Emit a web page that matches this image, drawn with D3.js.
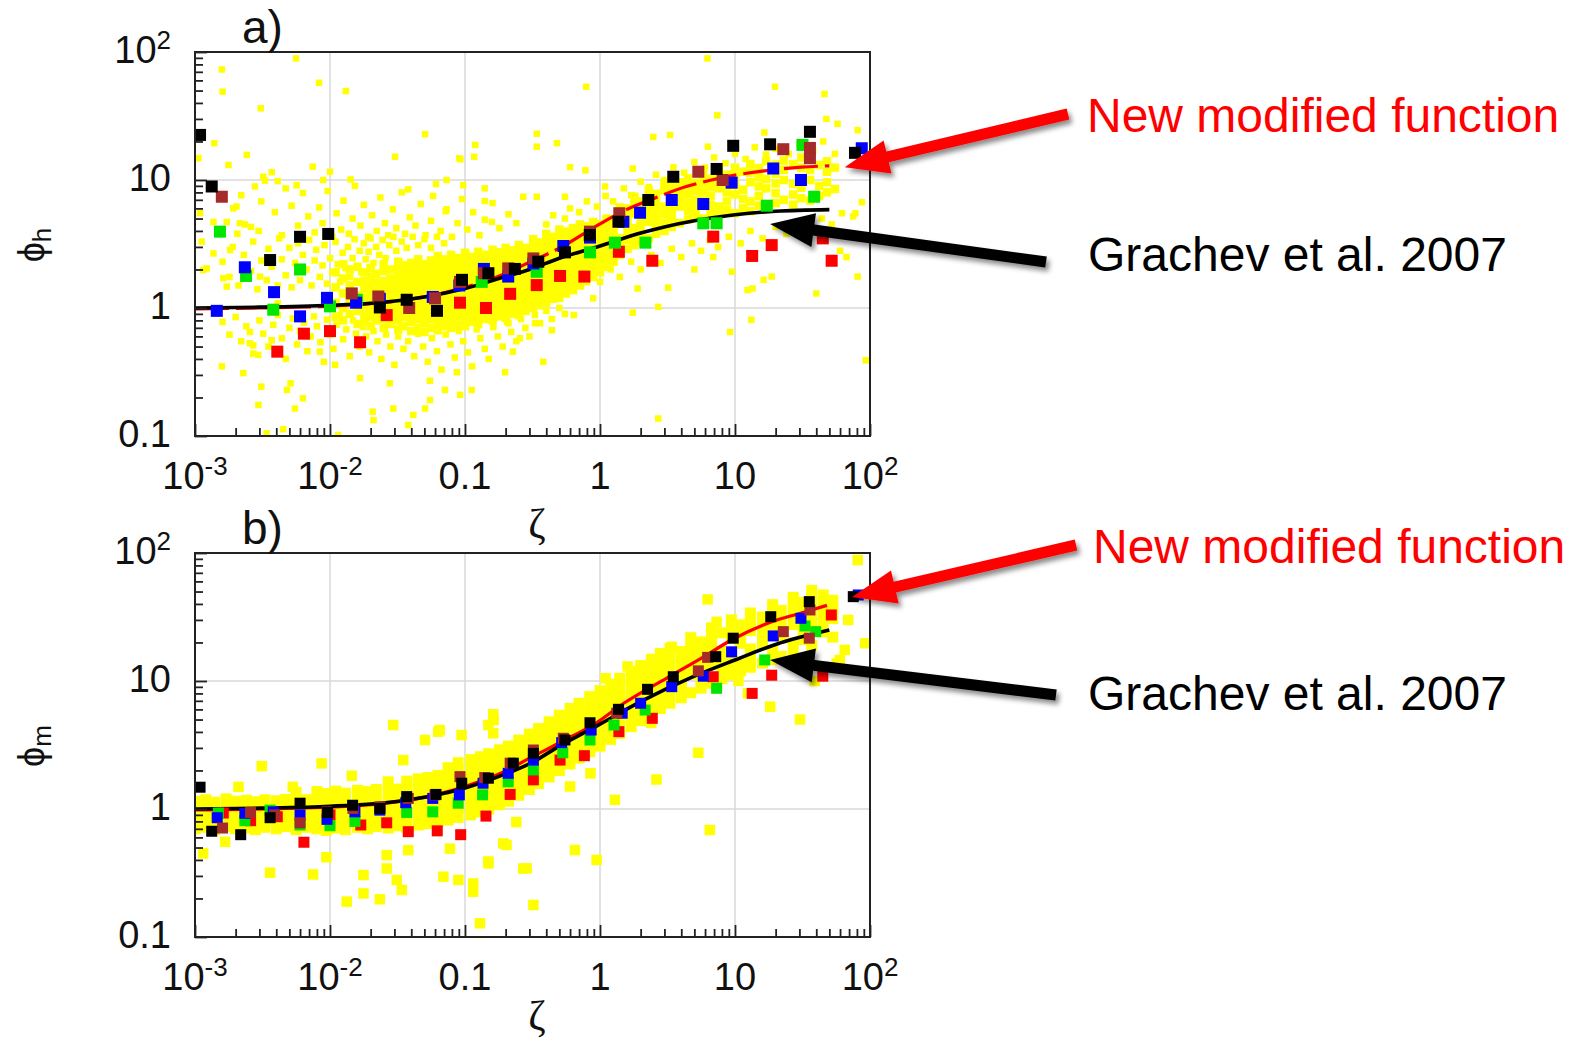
<!DOCTYPE html>
<html>
<head>
<meta charset="utf-8">
<script src="https://cdn.jsdelivr.net/npm/d3@7"></script>
<style>
  html, body { margin: 0; padding: 0; background: #fff; }
  svg { display: block; font-family: "Liberation Sans", Arial, Helvetica, sans-serif; }
</style>
</head>
<body>
<script>
// ---------------------------------------------------------------
// Stability functions phi_h (panel a) and phi_m (panel b) vs zeta
// ---------------------------------------------------------------

// Tick labels
const xTickLabels = [
  { v: 1e-3, text: "10", sup: "-3" },
  { v: 1e-2, text: "10", sup: "-2" },
  { v: 0.1, text: "0.1" },
  { v: 1, text: "1" },
  { v: 10, text: "10" },
  { v: 100, text: "10", sup: "2" }
];
const yTickLabels = [
  { v: 0.1, text: "0.1" },
  { v: 1, text: "1" },
  { v: 10, text: "10" },
  { v: 100, text: "10", sup: "2" }
];
const gridZeta = [0.01, 0.1, 1, 10];
const gridPhi = [1, 10];

// ---- Panel a: phi_h ----
// bin-averaged values for the five groups, [zeta, phi]
const hBlack = [[0.00109,22.5],[0.00133,8.9],[0.0036,2.37],[0.006,3.6],[0.0097,3.79],[0.0234,1.01],[0.037,1.16],[0.062,0.95],[0.095,1.66],[0.149,1.87],[0.234,2.02],[0.349,2.3],[0.55,2.72],[0.84,3.72],[1.37,4.72],[2.28,6.98],[3.49,10.6],[7.31,12.2],[9.7,18.5],[18.2,19.0],[35.9,23.8],[77.4,16.3]];
const hBlue = [[0.00145,0.95],[0.00234,2.08],[0.00385,1.33],[0.006,0.86],[0.0095,1.2],[0.0156,1.1],[0.0234,1.18],[0.0577,1.22],[0.0908,1.5],[0.138,2.02],[0.209,1.76],[0.321,2.23],[0.535,3.05],[0.843,3.55],[1.49,4.72],[1.98,5.55],[3.4,6.98],[5.82,6.49],[9.44,9.53],[19.2,12.3],[30.8,10.0],[86.9,17.7]];
const hGreen = [[0.00153,3.95],[0.00239,1.78],[0.0038,0.97],[0.006,2.0],[0.01,1.03],[0.0158,1.16],[0.133,1.6],[0.34,1.92],[0.843,2.72],[1.29,3.24],[2.17,3.24],[5.82,4.59],[7.31,4.59],[17.2,6.3],[31.6,18.8],[38.6,7.4]];
const hRed = [[0.00407,0.456],[0.00641,0.63],[0.01,0.66],[0.0167,0.54],[0.0263,0.88],[0.0918,1.1],[0.143,1.0],[0.216,1.29],[0.34,1.51],[0.506,1.78],[0.766,1.76],[1.38,2.75],[2.44,2.34],[6.9,3.61],[13.4,2.55],[18.7,3.1],[44.7,3.5],[52,2.34]];
const hBrown = [[0.00158,7.4],[0.0145,1.3],[0.0228,1.23],[0.0386,1.0],[0.06,1.19],[0.0918,1.6],[0.138,1.87],[0.209,2.04],[0.321,2.44],[0.843,3.95],[1.39,5.5],[5.35,11.6],[8.1,10.0],[22.8,17.4],[35.9,17.8],[35.9,14.8]];

// curves
const hGrachev = [[0.001,1.0],[0.003,1.015],[0.01,1.05],[0.02,1.09],[0.05,1.22],[0.1,1.42],[0.2,1.76],[0.3,2.0],[0.5,2.45],[1,3.05],[2,3.85],[3,4.3],[5,4.8],[10,5.35],[20,5.7],[50,5.87]];
const hModified = [[0.001,0.985],[0.003,1.0],[0.01,1.035],[0.02,1.08],[0.05,1.22],[0.1,1.45],[0.2,1.86],[0.28,2.2],[0.52,3.0],[0.95,4.4],[1.53,5.8],[2.7,7.4],[4.3,8.85],[6.7,10.0],[11,11.1],[19,12.0],[31,12.6],[50,12.9]];

// individual observations: dense part as columns [zeta, [phi...]]
const hCloudCore = [
  [0.011,[0.85,1.1,1.45,1.9]],
  [0.0125,[0.8,1.0,1.3,1.7,2.2]],
  [0.014,[0.9,1.15,1.5,2.0]],
  [0.016,[0.75,0.95,1.25,1.6,2.1]],
  [0.018,[0.78,0.9,1.05,1.2,1.4,1.62,1.9]],
  [0.02,[0.72,0.85,0.97,1.12,1.3,1.5,1.75,2.05]],
  [0.022,[0.8,0.92,1.03,1.18,1.36,1.58,1.85]],
  [0.025,[0.7,0.82,0.95,1.08,1.25,1.42,1.62,1.95,2.2]],
  [0.028,[0.75,0.87,1.0,1.15,1.3,1.5,1.7,2.0]],
  [0.032,[0.68,0.8,0.92,1.05,1.2,1.37,1.55,1.78,2.05,2.3]],
  [0.035,[0.72,0.85,0.98,1.1,1.27,1.45,1.65,1.9,2.15]],
  [0.04,[0.66,0.78,0.9,1.03,1.17,1.33,1.52,1.72,1.98,2.25]],
  [0.045,[0.7,0.82,0.95,1.08,1.23,1.4,1.6,1.83,2.1,2.4]],
  [0.05,[0.65,0.76,0.88,1.0,1.14,1.3,1.48,1.68,1.92,2.2]],
  [0.056,[0.7,0.82,0.94,1.07,1.22,1.38,1.57,1.8,2.05,2.35]],
  [0.063,[0.67,0.78,0.9,1.02,1.16,1.32,1.5,1.7,1.95,2.25,2.55]],
  [0.071,[0.72,0.84,0.96,1.1,1.25,1.42,1.62,1.85,2.1,2.4]],
  [0.079,[0.7,0.8,0.92,1.05,1.19,1.35,1.53,1.75,2.0,2.3,2.6]],
  [0.089,[0.74,0.86,0.98,1.12,1.28,1.46,1.66,1.9,2.15,2.45]],
  [0.1,[0.72,0.83,0.95,1.08,1.22,1.38,1.57,1.8,2.05,2.35,2.7]],
  [0.11,[0.78,0.9,1.02,1.16,1.32,1.5,1.7,1.95,2.2,2.5]],
  [0.125,[0.75,0.86,0.98,1.1,1.25,1.42,1.62,1.85,2.1,2.4,2.75]],
  [0.14,[0.82,0.94,1.07,1.21,1.37,1.56,1.78,2.02,2.3,2.6]],
  [0.16,[0.8,0.91,1.03,1.17,1.33,1.5,1.7,1.94,2.2,2.5,2.85]],
  [0.18,[0.86,0.98,1.11,1.26,1.43,1.62,1.85,2.1,2.4,2.72]],
  [0.2,[0.84,0.95,1.07,1.21,1.37,1.56,1.77,2.0,2.28,2.6,2.95]],
  [0.22,[0.9,1.02,1.16,1.31,1.49,1.69,1.92,2.18,2.48,2.82]],
  [0.25,[0.88,1.0,1.13,1.28,1.45,1.65,1.87,2.12,2.4,2.72,3.1]],
  [0.28,[0.95,1.08,1.22,1.38,1.57,1.78,2.02,2.3,2.6,2.95]],
  [0.32,[1.0,1.13,1.28,1.45,1.64,1.86,2.1,2.38,2.7,3.05,3.45]],
  [0.35,[1.05,1.19,1.35,1.53,1.73,1.96,2.22,2.52,2.85,3.25]],
  [0.4,[1.1,1.25,1.41,1.6,1.81,2.05,2.32,2.63,2.98,3.38,3.8]],
  [0.45,[1.18,1.33,1.5,1.7,1.93,2.18,2.47,2.8,3.17,3.6]],
  [0.5,[1.2,1.36,1.54,1.74,1.97,2.23,2.52,2.86,3.24,3.65,4.1]],
  [0.56,[1.3,1.47,1.66,1.88,2.13,2.41,2.73,3.1,3.5,3.95]],
  [0.63,[1.38,1.56,1.77,2.0,2.26,2.56,2.9,3.28,3.7,4.2]],
  [0.71,[1.5,1.7,1.92,2.17,2.46,2.78,3.15,3.56,4.0,4.5]],
  [0.79,[1.62,1.83,2.07,2.34,2.65,3.0,3.4,3.85,4.35]],
  [0.89,[1.75,1.98,2.24,2.53,2.86,3.24,3.67,4.15,4.7]],
  [1.0,[1.9,2.15,2.43,2.75,3.1,3.5,3.96,4.5]],
  [1.12,[2.1,2.38,2.7,3.05,3.45,3.9,4.4,5.0]],
  [1.26,[2.3,2.6,2.95,3.35,3.8,4.3,4.9]],
  [1.4,[2.6,3.0,3.5,4.6,5.3,6.1]],
  [1.6,[2.9,3.4,3.9,4.5,5.2,6.0]],
  [1.8,[3.1,3.6,4.2,5.5,6.4,7.4]],
  [2.0,[3.3,3.8,4.4,5.1,5.9,6.8]],
  [2.3,[3.5,4.7,5.4,6.2,7.2,8.3]],
  [2.6,[3.8,4.4,5.1,5.9,6.8,7.8]],
  [3.0,[4.0,4.6,5.4,6.2,8.3,9.5]],
  [3.4,[4.3,5.0,5.8,6.7,7.8,9.0]],
  [3.9,[4.6,6.2,7.2,8.3,9.6]],
  [4.5,[4.9,5.7,6.6,7.7,8.9,10.3]],
  [5.1,[5.2,6.0,7.0,8.2,9.5]],
  [5.8,[5.0,6.9,8.1,9.4,10.9]],
  [6.6,[5.5,6.4,7.5,8.8,10.2]],
  [7.6,[5.3,6.2,8.6,10.0,11.6]],
  [8.7,[5.8,6.8,8.0,9.4,11.0]],
  [10,[5.5,7.7,9.1,10.7,12.5]],
  [11.5,[6.0,7.1,8.4,11.6]],
  [13,[5.7,6.8,9.6,11.4,13.3]],
  [15,[6.3,7.5,8.9,10.5,12.4]],
  [17,[6.0,8.6,10.2,14.0]],
  [20,[6.6,7.9,9.4,11.2,13.2]],
  [23,[7.0,10.0,12.0,14.2]],
  [27,[6.4,7.7,9.3,13.3]],
  [31,[7.2,8.7,10.4,12.5,15]],
  [36,[6.9,10.0,12.0,14.4]],
  [42,[7.5,9.0,13.1]],
  [48,[8.0,9.6,11.6,14]],
  [55,[8.5,12.5]]
];
// individual observations: scattered part, [zeta, phi]
const hCloudScatter = [
  [0.00158,73],[0.0016,49],[0.0056,89],[0.0083,57.5],[0.0131,49.5],[0.00307,36.3],[0.0506,22.8],[0.00139,19.4],[0.00242,15.7],[0.0303,15.2],
  [0.00106,14.8],[0.00177,13.1],[0.00745,12.7],[0.01,11.6],[0.0032,10.6],[0.0037,11.5],[0.0142,10.1],[0.038,8.45],[0.058,7.5],[0.00278,8.9],
  [0.00566,9.1],[0.00109,5.5],[0.00192,6.0],[0.00234,4.5],[0.00137,4.7],[0.00172,4.7],[0.00206,3.8],[0.00296,4.0],[0.00112,3.3],[0.00182,2.84],
  [0.00122,2.04],[0.00172,1.47],[0.00137,2.67],[0.119,18.8],[0.0908,14.8],[0.117,15.2],[0.0925,14.5],[0.27,7.4],[0.073,10],[0.097,9.1],
  [0.14,8.6],[0.14,6.85],[0.073,5.9],[0.158,4.7],[0.0089,10],[0.0041,9.8],[0.00203,6.2],[0.00215,4.6],[0.00115,1.98],[0.00162,1.71],
  [0.00303,1.76],[0.0041,1.09],
  [0.00228,0.31],[0.00158,0.35],[0.0031,0.243],[0.00295,0.175],[0.0034,0.105],[0.0045,0.113],[0.0055,0.164],[0.0063,0.197],[0.0051,0.258],
  [0.0084,0.456],[0.0115,0.102],[0.021,0.133],[0.0294,0.164],[0.0414,0.146],[0.0506,0.164],[0.055,0.191],[0.0167,0.283],[0.0109,0.36],
  [0.0027,0.51],[0.0037,0.56],[0.00255,0.65],[0.00255,0.53],[0.00294,0.43],[0.0048,0.229],[0.0207,0.155],[0.0277,0.258],[0.038,0.122],
  [0.055,0.27],[0.071,0.229],[0.092,0.21],[0.112,0.229],[0.087,0.315],[0.198,0.315],[0.226,0.456],[0.255,0.58],[0.21,0.76],
  [6.25,89],[0.79,53.5],[19.8,53.5],[46,47],[7.4,32],[47.5,30],[57.5,27.5],[81,24.5],[16.5,23.5],[0.34,23],[0.34,18.2],[0.48,19.4],
  [2.48,21.7],[3.3,22.5],[6.3,18.2],[1.75,12.3],[0.6,12.6],[0.78,11.9],[0.55,7.4],[0.34,7.4],[1.09,8.9],[87,6.7],[75,5.2],[78,5.5],
  [9.5,1.92],[6.9,2.5],[5.0,2.0],[3.2,1.44],[1.9,1.42],[2.7,1.02],[1.75,0.92],[13.5,1.42],[18.7,1.76],[13.2,0.81],[40,1.3],[81,1.76],
  [60,2.8],[67,2.5],[9.2,0.65],[93,0.39],[2.7,0.137],[0.38,0.38],[0.44,0.67],[0.33,0.76],[0.64,0.88],[0.89,1.19],[12.4,1.38],[16.3,1.66],
  // upper fan
  [0.0022,7.6],[0.0026,4.3],[0.0031,6.8],[0.0033,9.9],[0.0039,5.6],[0.0044,3.7],[0.0047,8.6],[0.0052,6.3],[0.0058,4.4],[0.0063,7.9],
  [0.0069,5.2],[0.0077,3.9],[0.0083,6.1],[0.0088,4.6],[0.0096,8.2],[0.0104,3.6],[0.0112,5.5],[0.0121,4.1],[0.0126,6.9],[0.0138,3.8],
  [0.0147,5.0],[0.0153,9.0],[0.0168,4.4],[0.0178,6.4],[0.0192,3.6],[0.0205,5.3],[0.0222,4.0],[0.0236,7.3],[0.0255,4.6],[0.027,3.7],
  [0.0292,5.9],[0.031,4.2],[0.034,8.0],[0.036,3.8],[0.039,5.1],[0.043,4.4],[0.047,6.5],[0.051,3.7],[0.056,4.8],[0.061,9.3],
  [0.066,4.0],[0.072,5.7],[0.08,3.6],[0.088,4.6],[0.095,7.1],[0.104,4.1],[0.115,5.6],[0.128,3.7],[0.14,4.9],[0.16,6.6],
  [0.18,4.2],[0.21,5.4],[0.24,4.6],
  // above the curve, small zeta
  [0.0016,2.3],[0.0018,1.75],[0.0019,3.0],[0.0021,1.5],[0.0023,2.6],[0.0026,1.95],[0.0027,3.3],[0.0029,1.4],[0.0031,2.35],[0.0034,1.65],
  [0.0035,2.9],[0.0037,2.1],[0.0041,1.5],[0.0042,3.5],[0.0044,2.4],[0.0047,1.8],[0.005,2.95],[0.0052,1.45],[0.0055,2.25],[0.0058,3.2],
  [0.006,1.65],[0.0063,2.6],[0.0067,2.0],[0.007,3.4],[0.0073,1.5],[0.0077,2.35],[0.0079,2.85],[0.0084,1.75],[0.0088,2.15],[0.0091,3.1],
  [0.0095,1.55],[0.01,2.45],[0.0104,1.9],[0.011,3.3],[0.0114,2.2],[0.0119,1.6],[0.0124,2.7],[0.013,2.05],[0.0136,3.0],[0.0141,1.75],
  [0.0147,2.45],[0.0152,3.45],[0.0159,2.1],[0.0166,2.8],[0.0171,1.9],[0.0178,3.2],[0.0184,2.4],[0.0193,2.75],[0.02,3.5],[0.021,2.25],
  [0.022,3.0],[0.0232,2.6],[0.0245,3.4],[0.0258,2.45],[0.0275,3.1],[0.0295,3.6],[0.031,2.8],[0.034,3.3],[0.037,2.95],[0.041,3.6],
  [0.045,3.1],[0.05,3.45],[0.056,2.95],[0.062,3.6],[0.07,3.2],
  // below the curve, small zeta
  [0.0016,0.78],[0.0018,0.62],[0.002,0.85],[0.0022,0.55],[0.0024,0.72],[0.0027,0.44],[0.003,0.8],[0.0032,0.63],[0.0035,0.5],[0.0038,0.74],
  [0.0041,0.88],[0.0044,0.58],[0.0047,0.4],[0.005,0.7],[0.0053,0.83],[0.0057,0.52],[0.006,0.66],[0.0064,0.77],[0.0068,0.46],[0.0072,0.6],
  [0.0076,0.86],[0.008,0.72],[0.0085,0.54],[0.009,0.38],[0.0095,0.81],[0.01,0.62],[0.0106,0.48],[0.0112,0.74],[0.0118,0.88],[0.0125,0.57],
  [0.0132,0.68],[0.014,0.42],[0.0148,0.8],[0.0156,0.63],[0.0165,0.5],[0.0175,0.71],[0.0185,0.6],[0.0195,0.45],[0.021,0.66],[0.0225,0.55],
  [0.024,0.4],[0.026,0.62],[0.028,0.5],[0.03,0.36],
  // below the dense band
  [0.032,0.6],[0.035,0.48],[0.038,0.55],[0.042,0.42],[0.045,0.63],[0.049,0.5],[0.053,0.38],[0.057,0.58],[0.062,0.46],[0.067,0.33],
  [0.072,0.62],[0.078,0.52],[0.084,0.41],[0.09,0.66],[0.097,0.55],[0.105,0.45],[0.113,0.35],[0.122,0.68],[0.13,0.58],[0.14,0.48],
  [0.15,0.4],[0.162,0.71],[0.175,0.6],[0.19,0.5],[0.205,0.78],[0.22,0.65],[0.24,0.55],[0.26,0.82],[0.28,0.7],[0.3,0.6],
  [0.33,0.88],[0.36,0.76],[0.4,0.95],[0.44,0.82],[0.5,1.0],[0.55,0.9],
  // large zeta, above and below the band
  [0.4,4.5],[0.45,5.3],[0.55,5.0],[0.6,6.0],[0.7,5.6],[0.8,6.8],[0.95,6.2],[1.1,7.5],[1.25,6.8],[1.5,8.6],[1.7,7.6],[2.0,9.7],
  [2.3,8.8],[2.6,11],[3.0,10],[3.5,12.6],[4.2,11.4],[5,13.8],[6,12.5],[7,15],[8.5,13.5],[10,16],[12,14.6],[14,18],[17,15.8],
  [20,17.5],[25,16],[30,19],[38,17],[45,20],[55,16],
  [1.0,1.6],[1.2,2.0],[1.4,1.75],[1.7,2.3],[2.0,2.0],[2.4,2.6],[2.8,2.25],[3.4,2.9],[4.0,2.5],[4.8,3.2],[5.6,2.8],[6.5,3.4],
  [7.5,3.0],[9,3.6],[11,3.2],[13,4.0],[16,3.5],[20,4.3],[24,3.8],[30,4.6],[36,4.2],[44,5.0],[52,4.5],[62,5.5]
];

// ---- Panel b: phi_m ----
const mBlack = [[0.00109,1.48],[0.00133,0.67],[0.00218,0.63],[0.0036,0.855],[0.006,1.11],[0.0096,0.94],[0.0147,1.07],[0.0234,1.01],[0.037,1.25],[0.061,1.3],[0.0946,1.59],[0.149,1.74],[0.228,2.28],[0.321,2.72],[0.55,3.46],[0.843,4.72],[1.37,6.01],[2.25,8.61],[3.49,10.8],[7.2,15.5],[9.7,21.6],[18.4,31.8],[35.5,41.7],[75.2,45.6]];
const mBlue = [[0.00146,0.855],[0.00234,0.925],[0.0038,0.95],[0.006,0.9],[0.0095,0.83],[0.0153,0.95],[0.0234,0.98],[0.0364,1.12],[0.0577,1.21],[0.0908,1.29],[0.136,1.59],[0.209,1.9],[0.321,2.41],[0.52,3.3],[0.86,4.14],[1.46,5.6],[2.0,6.7],[3.4,9.03],[5.82,10.9],[9.44,16.9],[19.2,22.5],[30.8,30.9],[81.8,47.0]];
const mGreen = [[0.00149,0.93],[0.00234,0.81],[0.0036,0.98],[0.006,0.75],[0.01,0.74],[0.0153,0.8],[0.037,0.94],[0.0577,0.95],[0.089,1.11],[0.135,1.29],[0.209,1.63],[0.321,2.02],[0.53,2.75],[0.843,3.46],[1.27,4.53],[2.16,5.93],[7.31,8.77],[16.6,14.6],[33,26.9],[39.6,24.3]];
const mRed = [[0.00162,0.93],[0.00258,0.81],[0.00407,0.87],[0.00641,0.55],[0.01,0.9],[0.0169,0.75],[0.0263,0.78],[0.038,0.665],[0.0623,0.675],[0.0929,0.63],[0.143,0.88],[0.216,1.3],[0.321,1.69],[0.506,2.41],[0.766,2.61],[1.38,4.02],[2.44,5.11],[6.9,10.8],[13.4,8.0],[18.7,11.1],[44.7,10.9],[51.7,32.8]];
const mBrown = [[0.0016,0.71],[0.00258,0.94],[0.0039,0.9],[0.006,0.78],[0.0095,0.95],[0.0148,1.01],[0.0234,1.04],[0.038,1.21],[0.06,1.29],[0.0918,1.79],[0.14,1.76],[0.216,2.28],[0.321,2.89],[0.535,3.57],[1.33,5.6],[5.35,12.0],[6.27,15.3],[22.8,24.3],[35.9,35.9],[35.5,21.6]];

const mGrachev = [[0.001,1.0],[0.003,1.015],[0.01,1.05],[0.03,1.14],[0.06,1.28],[0.1,1.46],[0.2,1.88],[0.3,2.25],[0.5,3.1],[1,4.6],[2,6.9],[5,10.9],[10,14.6],[20,19.3],[50,25.0]];
const mModified = [[0.001,0.985],[0.01,1.035],[0.03,1.13],[0.06,1.29],[0.1,1.5],[0.2,1.98],[0.28,2.4],[0.55,3.46],[0.93,4.67],[1.5,6.7],[3.1,10.5],[5.9,15.5],[9.4,20.9],[18.7,29],[31,34],[48,39]];

const mCloudCore = [
  [0.001,[0.7,0.83,0.98,1.15]],
  [0.0012,[0.72,0.85,1.0,1.18]],
  [0.0014,[0.69,0.81,0.96,1.13]],
  [0.0017,[0.73,0.86,1.02,1.2]],
  [0.002,[0.7,0.83,0.98,1.15]],
  [0.0024,[0.71,0.84,0.99,1.17]],
  [0.0028,[0.69,0.82,0.97,1.14]],
  [0.0033,[0.72,0.85,1.0,1.18]],
  [0.004,[0.7,0.83,0.98,1.16]],
  [0.0047,[0.73,0.86,1.01,1.19]],
  [0.0056,[0.69,0.82,0.97,1.15,1.35]],
  [0.0067,[0.72,0.85,1.0,1.18]],
  [0.008,[0.7,0.83,0.98,1.16,1.37]],
  [0.0094,[0.68,0.8,0.95,1.12,1.32]],
  [0.011,[0.71,0.84,0.99,1.17,1.38]],
  [0.013,[0.69,0.81,0.96,1.13,1.33]],
  [0.016,[0.72,0.85,1.0,1.18,1.4]],
  [0.019,[0.7,0.83,0.98,1.16,1.37]],
  [0.022,[0.73,0.86,1.02,1.2,1.42]],
  [0.027,[0.71,0.84,0.99,1.17,1.38,1.63]],
  [0.032,[0.74,0.87,1.03,1.21,1.43]],
  [0.037,[0.72,0.85,1.0,1.18,1.4,1.65]],
  [0.045,[0.75,0.89,1.05,1.24,1.46,1.72]],
  [0.053,[0.77,0.91,1.07,1.26,1.49,1.76]],
  [0.063,[0.8,0.94,1.11,1.31,1.55,1.83]],
  [0.075,[0.82,0.97,1.14,1.35,1.59,1.88,2.1]],
  [0.089,[0.86,1.01,1.2,1.41,1.67,1.97,2.3]],
  [0.11,[0.9,1.06,1.25,1.48,1.74,2.06,2.43]],
  [0.13,[0.95,1.12,1.32,1.56,1.84,2.17,2.56]],
  [0.15,[1.0,1.18,1.39,1.64,1.94,2.29,2.7]],
  [0.18,[1.08,1.27,1.5,1.77,2.09,2.47,2.9]],
  [0.21,[1.15,1.36,1.6,1.89,2.23,2.63,3.1]],
  [0.25,[1.28,1.51,1.78,2.1,2.48,2.93,3.45]],
  [0.3,[1.42,1.68,1.98,2.34,2.76,3.26,3.85]],
  [0.35,[1.58,1.86,2.2,2.6,3.07,3.62,4.25]],
  [0.42,[1.78,2.1,2.48,2.93,3.46,4.08,4.8]],
  [0.5,[2.0,2.36,2.78,3.28,3.87,4.57,5.4]],
  [0.6,[2.25,2.66,3.14,3.7,4.37,5.15,6.1]],
  [0.7,[2.5,2.95,3.48,4.1,4.84,5.71,6.7]],
  [0.84,[2.8,3.3,3.9,4.6,5.43,6.4,7.55]],
  [1.0,[3.1,3.66,4.32,5.1,6.0,7.1,8.4]],
  [1.2,[3.5,4.13,4.87,5.75,6.78,8.0,9.45]],
  [1.4,[3.9,4.6,5.43,6.4,7.55,8.9,10.5]],
  [1.7,[4.4,5.2,6.13,7.23,8.53,10.1,11.9]],
  [2.0,[4.9,5.78,6.82,8.05,9.5,11.2,13.2]],
  [2.4,[5.5,6.5,7.67,9.05,10.7,12.6,14.8]],
  [2.8,[6.1,7.2,8.5,10.0,11.8,13.9,16.4]],
  [3.3,[6.7,7.9,9.32,11.0,13.0,15.3,18]],
  [4.0,[7.4,8.73,10.3,12.2,14.4,17.0]],
  [4.7,[8.1,11.3,13.3,15.7,18.5,21.8]],
  [5.6,[8.8,10.4,12.3,14.5,17.1,20.2]],
  [6.7,[9.6,13.4,15.8,18.6,22,26]],
  [8,[10.4,12.3,14.5,17.1,23.8]],
  [9.4,[11.2,13.2,15.6,21.7,25.6,30]],
  [11,[12.0,14.2,19.7,23.3,27.5]],
  [13,[12.8,15.1,17.8,24.8,29.3,34]],
  [16,[13.8,19.2,22.7,26.8,31.6]],
  [19,[14.7,17.3,24.1,28.4,33.5,39.5]],
  [22,[15.6,21.7,25.6,30.2,35.6]],
  [27,[16.8,19.8,27.6,32.6,38.5,45]],
  [32,[21.1,24.9,29.4,34.7,41]],
  [37,[19,26.4,31.2,36.8,43.4,51]],
  [45,[24.2,28.6,33.7,39.8,47]],
  [53,[22,30.7,36.2,42.7]]
];
const mCloudScatter = [
  [0.00312,2.16],[0.00867,2.27],[0.0145,1.82],[0.0294,4.53],[0.0349,2.41],[0.0506,3.46],[0.0634,4.02],[0.0944,3.78],[0.149,4.53],[0.162,5.5],
  [0.162,3.9],[0.0021,1.49],[0.0053,1.49],[0.163,4.95],[0.065,4.14],
  [0.00115,0.45],[0.00167,0.555],[0.0036,0.318],[0.0075,0.308],[0.0094,0.42],[0.0133,0.189],[0.0177,0.219],[0.0177,0.305],[0.0234,0.197],
  [0.0263,0.343],[0.0263,0.436],[0.0312,0.279],[0.034,0.233],[0.038,0.477],[0.0692,0.296],[0.0774,0.49],[0.0893,0.279],[0.115,0.262],
  [0.115,0.226],[0.129,0.128],[0.149,0.376],[0.192,0.538],[0.27,0.343],[0.321,0.178],[0.24,0.79],[0.149,0.389],[0.203,0.524],
  [0.652,0.478],[0.944,0.4],[0.286,0.344],[1.29,1.18],[2.62,1.70],[5.35,2.75],[6.5,0.685],[30.3,5.0],[6.27,43.4],[81,88],[69,30],
  [92,19.7],[65,17.5],[56.6,13.7],[39,10],[10.6,10.0],[12.5,8.0],[59.7,14.6],
  [7.3,29],[3.4,18.5],[2.4,4.7],[18.2,6.3],[1.1,10.5],[1.6,13],[0.85,1.9],[0.6,1.5]
];

// ---------------------------------------------------------------
const W = 1569, H = 1042;
const PLOT_H = 384;

const svg = d3.select("body").append("svg")
  .attr("width", W).attr("height", H)
  .attr("viewBox", `0 0 ${W} ${H}`);

svg.append("rect").attr("width", W).attr("height", H).attr("fill", "#fff");

const defs = svg.append("defs");
const shadow = defs.append("filter").attr("id", "arrowShadow")
  .attr("x", "-20%").attr("y", "-60%").attr("width", "140%").attr("height", "220%");
shadow.append("feDropShadow")
  .attr("dx", 3).attr("dy", 4).attr("stdDeviation", 2.5)
  .attr("flood-color", "#000").attr("flood-opacity", 0.45);

const x = d3.scaleLog().domain([1e-3, 1e2]).range([195, 870]);

const panels = [
  {
    top: 52, letter: "a)", sub: "h", titleY: 538,
    core: hCloudCore, scatter: hCloudScatter, coreDot: 8.5, scatterDot: 6.5, binDot: 12,
    groups: [["#ff0000", hRed], ["#00e600", hGreen], ["#0000ff", hBlue], ["#a52a2a", hBrown], ["#000000", hBlack]],
    grachev: hGrachev, modified: hModified, dash: "34,7",
    notes: [
      { text: "New modified function", color: "#ff0000", tx: 1087, ty: 132, tail: [1068, 114], tip: [65, 12.6] },
      { text: "Grachev et al. 2007", color: "#000000", tx: 1088, ty: 271, tail: [1046, 262], tip: [18.2, 4.53] }
    ]
  },
  {
    top: 553, letter: "b)", sub: "m", titleY: 1030,
    core: mCloudCore, scatter: mCloudScatter, coreDot: 11, scatterDot: 10.5, binDot: 11,
    groups: [["#ff0000", mRed], ["#00e600", mGreen], ["#0000ff", mBlue], ["#a52a2a", mBrown], ["#000000", mBlack]],
    grachev: mGrachev, modified: mModified, dash: null,
    notes: [
      { text: "New modified function", color: "#ff0000", tx: 1093, ty: 563, tail: [1076, 545], tip: [73.6, 45.3] },
      { text: "Grachev et al. 2007", color: "#000000", tx: 1088, ty: 710, tail: [1056, 695], tip: [18.2, 14.6] }
    ]
  }
];

function arrowPath(x0, y0, x1, y1, shaft = 11, headL = 44, headW = 34) {
  const dx = x1 - x0, dy = y1 - y0, len = Math.hypot(dx, dy);
  const ux = dx / len, uy = dy / len, nx = -uy, ny = ux;
  const bx = x1 - ux * headL, by = y1 - uy * headL;
  const s = shaft / 2, h = headW / 2;
  const pts = [
    [x0 + nx * s, y0 + ny * s], [bx + nx * s, by + ny * s], [bx + nx * h, by + ny * h],
    [x1, y1],
    [bx - nx * h, by - ny * h], [bx - nx * s, by - ny * s], [x0 - nx * s, y0 - ny * s]
  ];
  return "M" + pts.map(p => p[0].toFixed(1) + "," + p[1].toFixed(1)).join("L") + "Z";
}

function drawSquares(sel, data, xs, ys, size, color) {
  sel.append("g").selectAll("rect").data(data).join("rect")
    .attr("x", d => xs(d[0]) - size / 2).attr("y", d => ys(d[1]) - size / 2)
    .attr("width", size).attr("height", size)
    .attr("fill", color);
}

panels.forEach((P, i) => {
  const top = P.top, bottom = top + PLOT_H;
  const y = d3.scaleLog().domain([0.1, 100]).range([bottom, top]);
  const g = svg.append("g");

  const clipId = "plotClip" + i;
  defs.append("clipPath").attr("id", clipId)
    .append("rect").attr("x", x.range()[0]).attr("y", top)
    .attr("width", x.range()[1] - x.range()[0]).attr("height", PLOT_H);

  // grid
  g.append("g").selectAll("line").data(gridZeta).join("line")
    .attr("x1", d => x(d)).attr("x2", d => x(d))
    .attr("y1", top).attr("y2", bottom)
    .attr("stroke", "#d9d9d9").attr("stroke-width", 1.5);
  g.append("g").selectAll("line").data(gridPhi).join("line")
    .attr("x1", x.range()[0]).attr("x2", x.range()[1])
    .attr("y1", d => y(d)).attr("y2", d => y(d))
    .attr("stroke", "#d9d9d9").attr("stroke-width", 1.5);

  const plot = g.append("g").attr("clip-path", `url(#${clipId})`);

  // individual observations
  const corePts = P.core.flatMap(([z, list]) => list.map(p => [z, p]));
  drawSquares(plot, corePts, x, y, P.coreDot, "#ffff00");
  drawSquares(plot, P.scatter, x, y, P.scatterDot, "#ffff00");

  // curves
  const line = d3.line().x(d => x(d[0])).y(d => y(d[1])).curve(d3.curveMonotoneX);
  const red = plot.append("path").datum(P.modified).attr("d", line)
    .attr("fill", "none").attr("stroke", "#ff0000").attr("stroke-width", 3.2);
  if (P.dash) red.attr("stroke-dasharray", P.dash);
  plot.append("path").datum(P.grachev).attr("d", line)
    .attr("fill", "none").attr("stroke", "#000").attr("stroke-width", 3.6);

  // bin averages
  P.groups.forEach(([color, data]) => drawSquares(plot, data, x, y, P.binDot, color));

  // ticks (inward)
  const decades = v => Math.abs(Math.log10(v) - Math.round(Math.log10(v))) < 1e-9;
  const xMinor = x.ticks().filter(v => !decades(v));
  const yMinor = y.ticks().filter(v => !decades(v));
  const styleAxis = sel => {
    sel.select(".domain").remove();
    sel.selectAll(".tick line").attr("stroke", "#222").attr("stroke-width", 1.8);
    sel.selectAll(".tick text").remove();
  };
  g.append("g").attr("transform", `translate(0,${bottom})`)
    .call(d3.axisBottom(x).tickValues(xMinor).tickSize(-8)).call(styleAxis);
  g.append("g").attr("transform", `translate(0,${bottom})`)
    .call(d3.axisBottom(x).tickValues([1e-3, 1e-2, 0.1, 1, 10, 100]).tickSize(-12)).call(styleAxis);
  g.append("g").attr("transform", `translate(${x.range()[0]},0)`)
    .call(d3.axisLeft(y).tickValues(yMinor).tickSize(-8)).call(styleAxis);
  g.append("g").attr("transform", `translate(${x.range()[0]},0)`)
    .call(d3.axisLeft(y).tickValues([0.1, 1, 10, 100]).tickSize(-12)).call(styleAxis);

  // frame
  g.append("rect")
    .attr("x", x.range()[0]).attr("y", top)
    .attr("width", x.range()[1] - x.range()[0]).attr("height", PLOT_H)
    .attr("fill", "none").attr("stroke", "#222").attr("stroke-width", 2);

  // tick labels
  const xl = g.append("g").attr("font-size", 38).attr("fill", "#111").attr("text-anchor", "middle");
  xTickLabels.forEach(t => {
    const tx = xl.append("text").attr("x", x(t.v)).attr("y", bottom + 53);
    tx.append("tspan").text(t.text);
    if (t.sup) tx.append("tspan").attr("font-size", 26).attr("dy", -14).text(t.sup);
  });
  const yl = g.append("g").attr("font-size", 38).attr("fill", "#111").attr("text-anchor", "end");
  yTickLabels.forEach(t => {
    const ty = yl.append("text").attr("x", 171).attr("y", y(t.v) + 11);
    ty.append("tspan").text(t.text);
    if (t.sup) ty.append("tspan").attr("font-size", 26).attr("dy", -14).text(t.sup);
  });

  // axis titles
  g.append("text")
    .attr("x", 537).attr("y", P.titleY)
    .attr("text-anchor", "middle")
    .attr("font-family", "'Liberation Serif', 'Times New Roman', serif")
    .attr("font-size", 42).attr("fill", "#111")
    .text("ζ");
  const yt = g.append("text")
    .attr("transform", `translate(44,${top + 193}) rotate(-90)`)
    .attr("text-anchor", "middle").attr("font-size", 36).attr("fill", "#111");
  yt.append("tspan").text("ϕ");
  yt.append("tspan").attr("font-size", 26).attr("dy", 7).text(P.sub);

  // panel letter
  g.append("text").attr("x", 242).attr("y", top - 9)
    .attr("font-size", 46).attr("fill", "#111").text(P.letter);

  // annotations
  P.notes.forEach(n => {
    const tipX = x(n.tip[0]), tipY = y(n.tip[1]);
    svg.append("path")
      .attr("d", arrowPath(n.tail[0], n.tail[1], tipX, tipY))
      .attr("fill", n.color)
      .attr("filter", "url(#arrowShadow)");
    svg.append("text")
      .attr("x", n.tx).attr("y", n.ty)
      .attr("font-size", 48).attr("fill", n.color)
      .text(n.text);
  });
});
</script>
</body>
</html>
